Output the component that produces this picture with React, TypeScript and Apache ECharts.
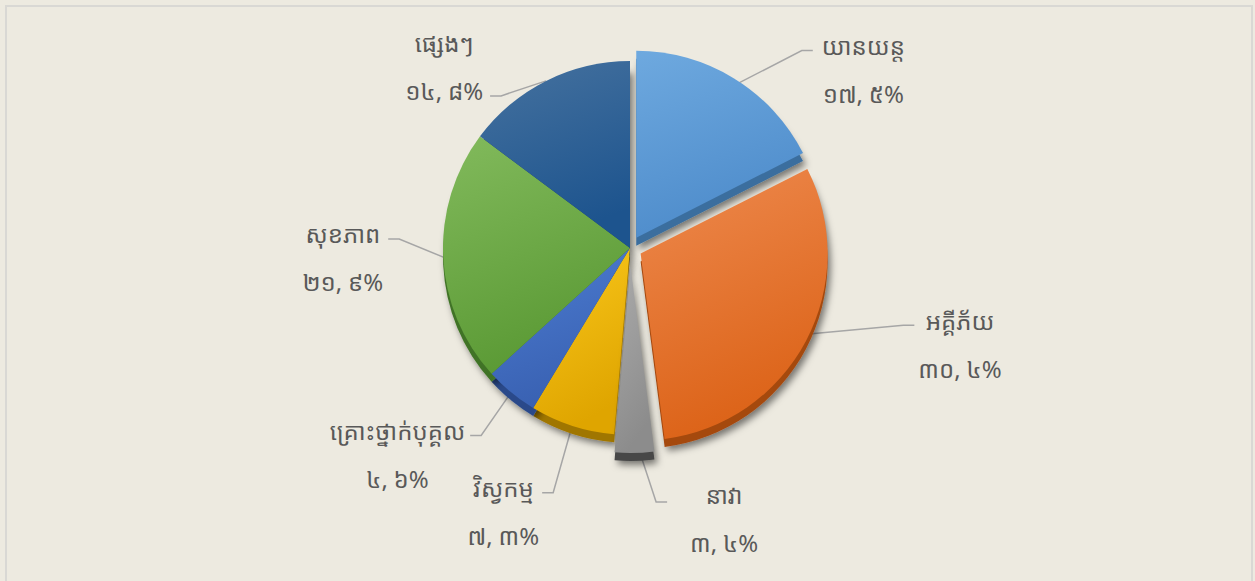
import React, { useEffect, useRef } from "react";
import * as echarts from "echarts";

const categories = ["យានយន្ត", "អគ្គីភ័យ", "នាវា", "វិស្វកម្ម", "គ្រោះថ្នាក់បុគ្គល", "សុខភាព", "ផ្សេងៗ"];
const values = [17.5, 30.4, 3.4, 7.3, 4.6, 21.9, 14.8];
// how far each slice is pulled out of the pie (0 = stays in place)
const pullOut = [12, 12, 18, 0, 0, 0, 0];
const topColors = ["#6EA9DF", "#EE8A4F", "#ABABAB", "#FAC81C", "#4D7DD2", "#82BA5C", "#46729F"];
const bottomColors = ["#4E8CCB", "#DC6318", "#8C8C8C", "#DFA500", "#3961B2", "#5B9A35", "#1D548E"];
const rimColors = ["#3A6E9E", "#A5480F", "#464646", "#A07600", "#2A4A8A", "#3F7325", "#163E68"];
// leader line end, relative to where ECharts starts the line on the slice edge
const leaderDX = [85, 119, 33, -30, -41, -55, -56];
const leaderDY = [-38, -10, 67, 67, 43, -18, 15];
// gap between leader end and the label block, and label anchoring
const labelGap = [9, 4, 23, 3, 5, 5, 7];
const labelRaise = [5, 5, 7, 5, 5, 6, 53];

const khmerDigits = "០១២៣៤៥៦៧៨៩";
const toKhmer = (v: number) =>
  v.toFixed(1).replace(".", ", ").replace(/[0-9]/g, (d) => khmerDigits[Number(d)]) + "%";

const FONT = "'Noto Sans Khmer', 'Khmer OS System', 'Khmer OS', 'DejaVu Sans', sans-serif";
const CLEAR = "rgba(0,0,0,0)";
const CX = 630;
const CY = 248;
const R = 187;
const RIM = 8;

export default function App() {
  const ref = useRef<HTMLDivElement>(null);
  useEffect(() => {
    document.body.style.margin = "0";
    const chart = echarts.init(ref.current!, null, { renderer: "svg" });
    const fill = (i: number) =>
      new echarts.graphic.LinearGradient(0, 0, 0.3, 1, [
        { offset: 0, color: topColors[i] },
        { offset: 1, color: bottomColors[i] },
      ]);
    const shadow = {
      shadowBlur: 7,
      shadowOffsetX: 3,
      shadowOffsetY: 4,
      shadowColor: "rgba(0,0,0,0.5)",
    };
    const hidden = { color: CLEAR, shadowColor: CLEAR, shadowBlur: 0, borderWidth: 0 };

    const layer = (offset: number, rim: boolean, withLabels: boolean) => ({
      type: "pie",
      center: [CX, rim ? CY + RIM : CY],
      radius: R,
      startAngle: 90,
      clockwise: true,
      silent: true,
      emphasis: { disabled: true },
      selectedMode: offset > 0 ? "multiple" : false,
      selectedOffset: offset,
      data: categories.map((name, i) => {
        const visible = pullOut[i] === offset;
        return {
          name,
          value: values[i],
          selected: offset > 0 && visible,
          itemStyle: !visible
            ? hidden
            : rim
            ? { color: rimColors[i], ...shadow }
            : { color: fill(i) },
        };
      }),
      label: withLabels
        ? {
            show: true,
            position: "outside",
            formatter: (p: any) => `{n|${p.name}}\n{v|${toKhmer(p.value)}}`,
            padding: [48, 0, 0, 0],
            rich: {
              n: { fontSize: 24, lineHeight: 48, color: "#595959", fontFamily: FONT, align: "center" },
              v: { fontSize: 24, lineHeight: 48, color: "#595959", fontFamily: FONT, align: "center" },
            },
          }
        : { show: false },
      labelLine: withLabels
        ? { show: true, length: 30, length2: 12, lineStyle: { color: "#A6A6A6", width: 1.5 } }
        : { show: false },
      labelLayout: withLabels
        ? (params: any) => {
            const i = params.dataIndex;
            const pts = params.labelLinePoints;
            if (!pts) return {};
            const start = pts[0];
            const ex = start[0] + leaderDX[i];
            const ey = start[1] + leaderDY[i];
            const right = leaderDX[i] > 0;
            const bx = right ? ex - 11 : ex + 11;
            return {
              x: right ? ex + labelGap[i] : ex - labelGap[i],
              y: ey - labelRaise[i],
              align: right ? "left" : "right",
              verticalAlign: "middle",
              labelLinePoints: [
                [start[0], start[1]],
                [bx, ey],
                [ex, ey],
              ],
            };
          }
        : undefined,
    });

    const offsets = Array.from(new Set(pullOut)).sort((a, b) => a - b);
    const series: any[] = [];
    offsets.forEach((off) => {
      series.push(layer(off, true, false));
      series.push(layer(off, false, off === 0));
    });

    chart.setOption({
      animation: false,
      backgroundColor: "#EDEAE0",
      graphic: [
        {
          type: "rect",
          shape: { x: 6, y: 6, width: 1246, height: 600 },
          style: { fill: "none", stroke: "#D9D8D4", lineWidth: 2 },
        },
      ],
      series,
    });
    return () => chart.dispose();
  }, []);
  return <div ref={ref} style={{ width: 1255, height: 581 }} />;
}
